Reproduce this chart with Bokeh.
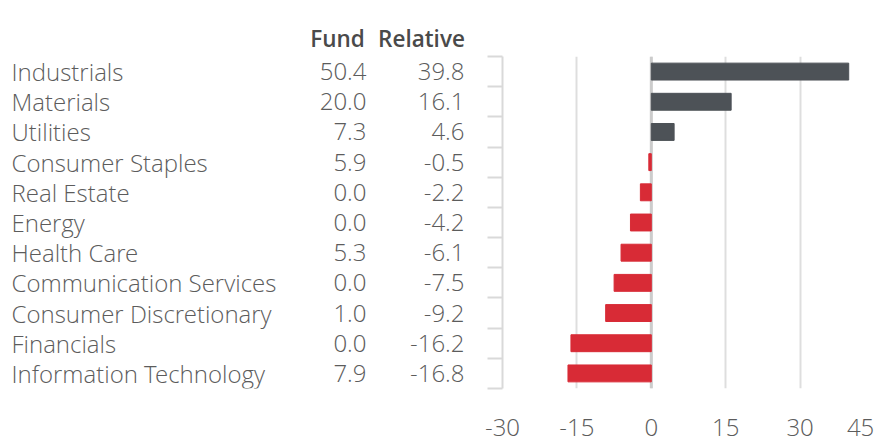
from bokeh.plotting import figure
from bokeh.layouts import row
from bokeh.models import Range1d, FixedTicker, ColumnDataSource, Span, LinearAxis
from bokeh.embed import file_html
from bokeh.resources import INLINE
from bokeh.core.properties import value

sectors = ["Industrials", "Materials", "Utilities", "Consumer Staples", "Real Estate",
           "Energy", "Health Care", "Communication Services", "Consumer Discretionary",
           "Financials", "Information Technology"]
fund = [50.4, 20.0, 7.3, 5.9, 0.0, 0.0, 5.3, 0.0, 1.0, 0.0, 7.9]
relative = [39.8, 16.1, 4.6, -0.5, -2.2, -4.2, -6.1, -7.5, -9.2, -16.2, -16.8]
x_ticks = [-30, -15, 0, 15, 30, 45]
headers = ["Fund", "Relative"]

LIGHT = "Open Sans Light"
SEMI = "Open Sans SemiBold"
H = 439
TOP, BOTTOM = 56, 51
LEFT_W = 480
RIGHT_W = 404
n = len(sectors)

ypos = [i + 0.5 for i in range(n)]
colors = ["#4d5257" if v >= 0 else "#d82b36" for v in relative]
src = ColumnDataSource(dict(
    sector=sectors, y=ypos,
    fund=[f"{v:.1f}" for v in fund],
    rel=[f"{v:.1f}" for v in relative],
    val=relative, color=colors))

# ---- left table ----
t = figure(width=LEFT_W, height=H, x_range=Range1d(0, LEFT_W), y_range=Range1d(n, 0),
           output_backend="svg", toolbar_location=None, x_axis_location=None, y_axis_location=None,
           min_border_left=0, min_border_right=0, min_border_top=TOP, min_border_bottom=BOTTOM)
t.grid.visible = False
t.outline_line_color = None

FUND_X, REL_X = 366, 464
txt = dict(text_font=value(LIGHT), text_font_size="24px", text_color="#5c5c5c", text_baseline="middle")
t.text(x=11, y="y", text="sector", text_align="left", source=src, **txt)
t.text(x=FUND_X, y="y", text="fund", text_align="right", source=src, **txt)
t.text(x=REL_X, y="y", text="rel", text_align="right", source=src, **txt)

# column headers as an axis above the table (centred over the right-aligned columns)
hdr_pos = [337, 421]
hdr_axis = LinearAxis(ticker=FixedTicker(ticks=hdr_pos))
hdr_axis.major_label_overrides = {hdr_pos[0]: headers[0], hdr_pos[1]: headers[1]}
hdr_axis.axis_line_color = None
hdr_axis.major_tick_line_color = None
hdr_axis.minor_tick_line_color = None
hdr_axis.major_label_text_font = SEMI
hdr_axis.major_label_text_font_size = "22.5px"
hdr_axis.major_label_text_color = "#4a4a4a"
hdr_axis.major_label_standoff = -3
t.add_layout(hdr_axis, "above")

# ---- right bars ----
p = figure(width=RIGHT_W, height=H, x_range=Range1d(-30, 45), y_range=Range1d(n, 0),
           output_backend="svg", toolbar_location=None, x_axis_location=None, y_axis_location=None,
           min_border_left=22, min_border_right=10, min_border_top=TOP, min_border_bottom=BOTTOM)
p.outline_line_color = None

# the last label sits flush left of its gridline (as in the original), so its
# tick is nudged inward; all other labels are centred on their gridlines
LAST_LABEL_POS = 42.2
label_ticks = x_ticks[:-1] + [LAST_LABEL_POS]
overrides = {v: str(v) for v in x_ticks[:-1]}
overrides[LAST_LABEL_POS] = str(x_ticks[-1])

xaxis = LinearAxis(ticker=FixedTicker(ticks=label_ticks))
xaxis.major_label_overrides = overrides
xaxis.axis_line_color = None
xaxis.major_tick_line_color = None
xaxis.minor_tick_line_color = None
xaxis.major_label_text_font = LIGHT
xaxis.major_label_text_font_size = "24px"
xaxis.major_label_text_color = "#5c5c5c"
xaxis.major_label_standoff = 24
p.add_layout(xaxis, "below")

yaxis = LinearAxis(ticker=FixedTicker(ticks=list(range(n + 1))))
yaxis.major_label_overrides = {i: "" for i in range(n + 1)}
yaxis.major_label_standoff = 0
yaxis.axis_line_color = "#d9d9d9"
yaxis.axis_line_width = 2
yaxis.major_tick_line_color = "#d9d9d9"
yaxis.major_tick_line_width = 2
yaxis.major_tick_out = 15
yaxis.major_tick_in = 0
yaxis.minor_tick_line_color = None
p.add_layout(yaxis, "left")

p.xgrid.ticker = FixedTicker(ticks=x_ticks)
p.xgrid.grid_line_color = "#dedede"
p.xgrid.grid_line_width = 2
p.ygrid.visible = False

p.add_layout(Span(location=0, dimension="height", line_color="#cccccc", line_width=3, level="underlay"))
p.hbar(y="y", left=0, right="val", height=0.56, color="color", source=src)

layout = row(t, p)
open("out.html", "w").write(file_html(layout, INLINE))
